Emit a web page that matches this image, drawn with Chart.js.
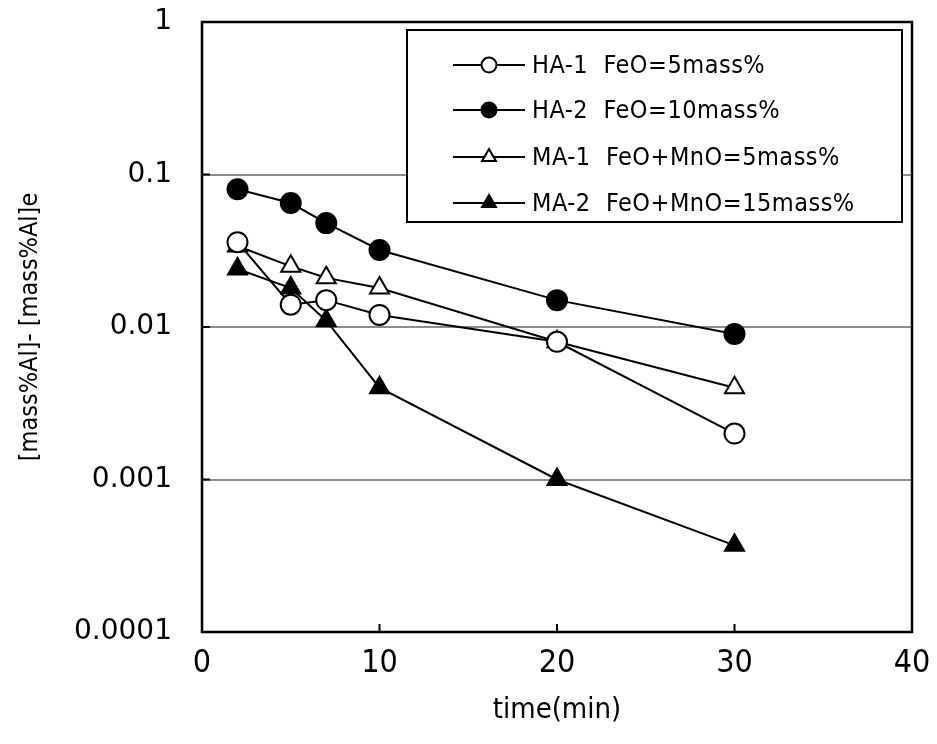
<!DOCTYPE html>
<html>
<head>
<meta charset="utf-8">
<script src="https://cdn.jsdelivr.net/npm/chart.js@4"></script>
<style>
  html, body { margin: 0; padding: 0; background: #fff; }
  #wrap { width: 937px; height: 744px; }
</style>
</head>
<body>
<div id="wrap"><canvas id="c" width="937" height="744"></canvas></div>
<script>
// データ (読み取り値)
const times = [2, 5, 7, 10, 20, 30];
const ha1 = [0.036, 0.014, 0.015, 0.012, 0.008, 0.002];
const ha2 = [0.08, 0.065, 0.048, 0.032, 0.015, 0.009];
const ma1 = [0.034, 0.025, 0.021, 0.018, 0.008, 0.004];
const ma2 = [0.024, 0.018, 0.011, 0.004, 0.001, 0.00037];

const seriesNames = [
  "HA-1  FeO=5mass%",
  "HA-2  FeO=10mass%",
  "MA-1  FeO+MnO=5mass%",
  "MA-2  FeO+MnO=15mass%"
];
const yTicks = [0.0001, 0.001, 0.01, 0.1, 1];
const yTickLabels = ["0.0001", "0.001", "0.01", "0.1", "1"];
const xTicks = [0, 10, 20, 30, 40];

const NARROW = "'Liberation Sans Narrow', 'Arial Narrow', 'DejaVu Sans Condensed', 'Liberation Sans', Arial, sans-serif";
const WIDE = "'DejaVu Sans', 'Liberation Sans', Arial, sans-serif";

function pts(vals) {
  return times.map((t, i) => ({ x: t, y: vals[i] }));
}

function makeSet(label, vals, style, filled) {
  return {
    label: label,
    data: pts(vals),
    borderColor: "#000",
    borderWidth: 2,
    pointStyle: style,
    pointRadius: style === "circle" ? 10 : 11,
    pointBorderWidth: 2,
    pointBorderColor: "#000",
    pointBackgroundColor: filled ? "#000" : "#fff",
    showLine: true,
    fill: false
  };
}

// 枠と内向きの目盛り
const framePlugin = {
  id: "frame",
  afterDraw(chart) {
    const { ctx, chartArea: a, scales } = chart;
    ctx.save();
    ctx.strokeStyle = "#000";
    ctx.lineWidth = 2;
    ctx.beginPath();
    yTicks.forEach(v => {
      const y = scales.y.getPixelForValue(v);
      ctx.moveTo(a.left, y);
      ctx.lineTo(a.left + 8, y);
    });
    xTicks.forEach(v => {
      const x = scales.x.getPixelForValue(v);
      ctx.moveTo(x, a.bottom);
      ctx.lineTo(x, a.bottom - 8);
    });
    ctx.stroke();
    ctx.lineWidth = 2.5;
    ctx.strokeRect(a.left, a.top, a.right - a.left, a.bottom - a.top);
    ctx.restore();
  }
};

// 凡例 (線+マーカー)
const legendPlugin = {
  id: "boxLegend",
  afterDraw(chart) {
    const ctx = chart.ctx;
    const bx = 407, by = 30, bw = 495, bh = 192;
    ctx.save();
    ctx.fillStyle = "#fff";
    ctx.fillRect(bx, by, bw, bh);
    ctx.strokeStyle = "#000";
    ctx.lineWidth = 2;
    ctx.strokeRect(bx, by, bw, bh);
    const rows = [65, 110, 157, 203];
    chart.data.datasets.forEach((ds, i) => {
      const y = rows[i];
      ctx.beginPath();
      ctx.moveTo(453, y);
      ctx.lineTo(525, y);
      ctx.strokeStyle = "#000";
      ctx.lineWidth = 2;
      ctx.stroke();
      ctx.fillStyle = ds.pointBackgroundColor;
      ctx.strokeStyle = "#000";
      ctx.lineWidth = 2;
      Chart.helpers.drawPoint(ctx, {
        pointStyle: ds.pointStyle,
        radius: ds.pointStyle === "circle" ? 7.5 : 8,
        rotation: 0,
        borderWidth: 2
      }, 489, y);
      ctx.fillStyle = "#000";
      ctx.font = "25px " + NARROW;
      ctx.letterSpacing = "0.5px";
      ctx.textBaseline = "middle";
      ctx.textAlign = "left";
      ctx.fillText(ds.label, 532, y + 1);
    });
    ctx.restore();
  }
};

new Chart(document.getElementById("c"), {
  type: "scatter",
  data: {
    datasets: [
      makeSet(seriesNames[0], ha1, "circle", false),
      makeSet(seriesNames[1], ha2, "circle", true),
      makeSet(seriesNames[2], ma1, "triangle", false),
      makeSet(seriesNames[3], ma2, "triangle", true)
    ]
  },
  options: {
    responsive: false,
    animation: false,
    layout: { padding: { top: 22, right: 25, left: 0, bottom: 0 } },
    plugins: {
      legend: { display: false },
      tooltip: { enabled: false }
    },
    scales: {
      x: {
        type: "linear",
        min: 0,
        max: 40,
        afterBuildTicks: s => { s.ticks = xTicks.map(v => ({ value: v })); },
        afterFit: s => {
          s.height = 112;
          s.paddingLeft = 0;
          s.paddingRight = 0;
        },
        grid: { display: false, drawTicks: false },
        border: { display: true, color: "#000", width: 2 },
        ticks: {
          color: "#000",
          font: { family: NARROW, size: 32 },
          padding: 12,
          maxRotation: 0
        },
        title: {
          display: true,
          text: "time(min)",
          color: "#000",
          font: { family: NARROW, size: 29 },
          padding: { top: 0, bottom: 16 }
        }
      },
      y: {
        type: "logarithmic",
        min: 0.0001,
        max: 1,
        afterBuildTicks: s => { s.ticks = yTicks.map(v => ({ value: v })); },
        afterFit: s => {
          s.width = 202;
          s.paddingTop = 0;
          s.paddingBottom = 0;
        },
        grid: {
          drawTicks: false,
          lineWidth: 2,
          color: c => (c.tick && (c.tick.value === 1 || c.tick.value === 0.0001)) ? "rgba(0,0,0,0)" : "#8c8c8c"
        },
        border: { display: true, color: "#000", width: 2 },
        ticks: {
          color: "#000",
          font: { family: WIDE, size: 28 },
          padding: 30,
          callback: v => {
            const i = yTicks.findIndex(t => Math.abs(t - v) / t < 1e-6);
            return i >= 0 ? yTickLabels[i] : "";
          }
        },
        title: {
          display: true,
          text: "[mass%Al]- [mass%Al]e",
          color: "#000",
          font: { family: NARROW, size: 25 },
          padding: { top: 15, bottom: 0 }
        }
      }
    }
  },
  plugins: [framePlugin, legendPlugin]
});
</script>
</body>
</html>
